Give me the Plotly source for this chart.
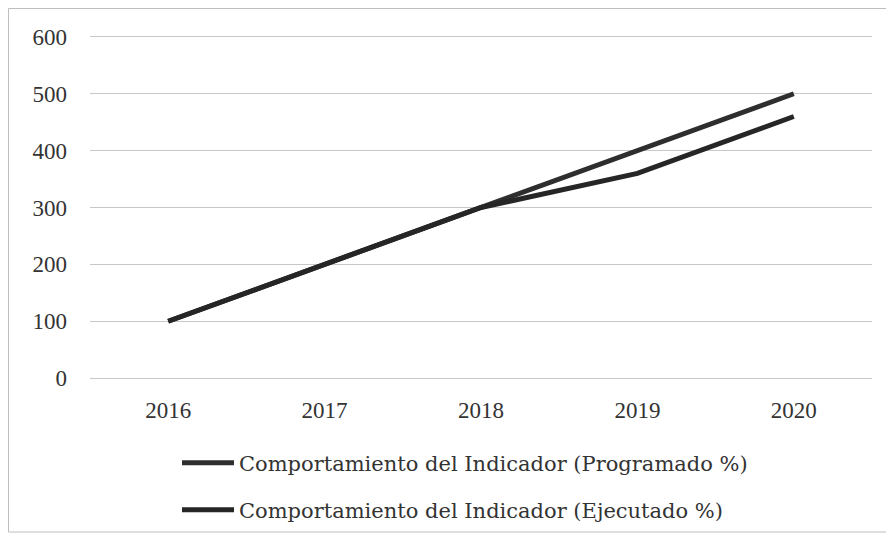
import plotly.graph_objects as go

years = ["2016", "2017", "2018", "2019", "2020"]
programado = [100, 200, 300, 400, 500]
ejecutado = [100, 200, 300, 360, 460]
y_ticks = [0, 100, 200, 300, 400, 500, 600]

FONT = "Liberation Serif"
OFF = 8  # page body margin
W, H = 894 - OFF, 538 - OFF
L, R, T, B = 82, 22, 26, 157
pw, ph = W - L - R, H - T - B

def px_x(x):
    return (x - OFF - L) / pw

def px_y(y):
    return (H - B - (y - OFF)) / ph

fig = go.Figure()
fig.add_trace(go.Scatter(
    x=years, y=programado, mode="lines",
    name="Comportamiento del Indicador (Programado %)",
    line=dict(color="#2e2e2e", width=5), legend="legend"))
fig.add_trace(go.Scatter(
    x=years, y=ejecutado, mode="lines",
    name="Comportamiento del Indicador (Ejecutado %)",
    line=dict(color="#262626", width=5), legend="legend2"))

leg_font = dict(family="DejaVu Serif", size=21, color="#333")
fig.update_layout(
    width=W, height=H,
    margin=dict(l=L, r=R, t=T, b=B, autoexpand=False),
    paper_bgcolor="white", plot_bgcolor="white",
    font=dict(family=FONT, size=23, color="#333"),
    xaxis=dict(type="category", range=[-0.5, 4.5], showgrid=False, showline=False,
               zeroline=False, ticks="", tickfont=dict(size=23, color="#333"),
               ticklabelstandoff=13, automargin=False),
    yaxis=dict(range=[-5, 605], tickvals=y_ticks, showgrid=True, gridcolor="#c8c8c8",
               gridwidth=1, zeroline=False, showline=False, ticks="",
               tickfont=dict(size=23, color="#333"), ticklabelstandoff=22,
               automargin=False),
    legend=dict(x=px_x(177), y=px_y(463), xanchor="left", yanchor="middle",
                bgcolor="rgba(0,0,0,0)", font=leg_font, itemwidth=52),
    legend2=dict(x=px_x(177), y=px_y(510), xanchor="left", yanchor="middle",
                 bgcolor="rgba(0,0,0,0)", font=leg_font, itemwidth=52),
    showlegend=True,
    shapes=[dict(type="rect", xref="paper", yref="paper",
                 x0=px_x(8.5), x1=px_x(890), y0=px_y(532), y1=px_y(8.5),
                 line=dict(color="#bdbdbd", width=1), layer="below")],
)

fig.write_html("out.html")
